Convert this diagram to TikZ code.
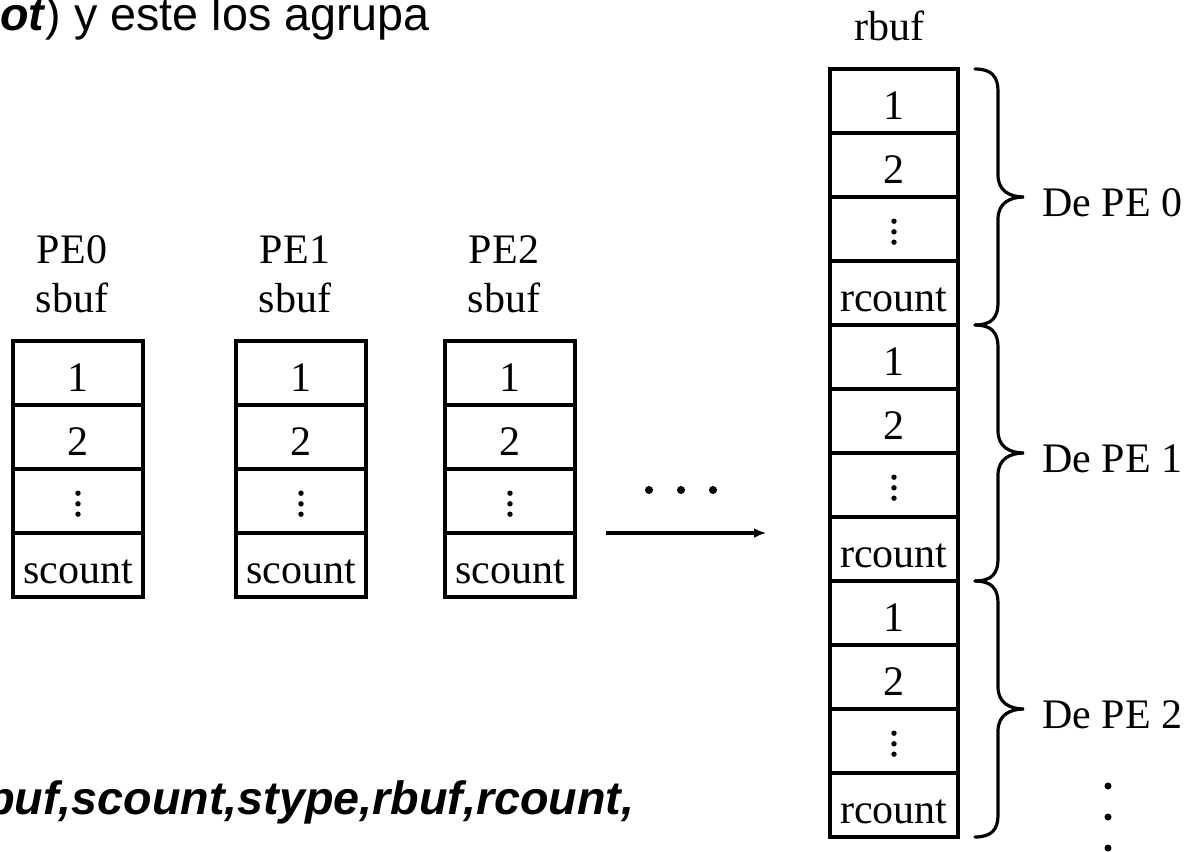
\documentclass[tikz,border=0pt]{standalone}
\usepackage{fontspec}
\setmainfont{Liberation Serif}
\newfontfamily\arialfont{Liberation Sans}
\usetikzlibrary{arrows.meta}

% one unit = one pixel of a 1202 x 851 canvas, y grows downward
\tikzset{
  x=0.75pt, y=-0.75pt,
  serif/.style={font=\fontsize{31.5}{36}\selectfont},
  cell/.style={draw, line width=2.4pt, serif, minimum width=97.5pt,
    minimum height=48pt, inner sep=0pt, outer sep=0pt,
    text height=27pt, text depth=0pt},
  rcell/.style={cell, minimum width=96pt},
  lbl/.style={serif, anchor=base, inner sep=0pt},
  sidelbl/.style={serif, anchor=base west, inner sep=0pt},
  slide/.style={font=\arialfont\fontsize{35}{40}\selectfont, anchor=base west, inner sep=0pt},
  brace/.style={line width=2.4pt, line cap=round},
  arrowline/.style={line width=2.4pt, -{Latex[length=9pt,width=7.5pt]}}
}

% three vertical dots inside an elided cell
\newcommand{\celldots}[1]{%
  \fill (#1.center) ++(0,-7.8) circle[radius=2.7];
  \fill (#1.center) ++(0,2.8) circle[radius=2.7];
  \fill (#1.center) ++(0,13.2) circle[radius=2.7];
}

\begin{document}
\begin{tikzpicture}
\useasboundingbox (0,0) rectangle (1202,851);
\clip (0,0) rectangle (1202,851);

% slide text
\node[slide] (hdr) at (0,30) {\textbf{\textit{ot}}) y este los agrupa};
\node[slide] (call) at (-14,814) {\textbf{\textit{buf,scount,stype,rbuf,rcount,}}};

% send buffers of the three processes
\foreach \c/\x in {0/78,1/301,2/510}{
  \node[lbl] (pe\c) at (\x-6,263) {PE\c};
  \node[lbl] (sb\c) at (\x-6,312) {sbuf};
  \node[cell] (s\c-a) at (\x,373) {1};
  \node[cell] (s\c-b) at (\x,437) {2};
  \node[cell] (s\c-c) at (\x,501) {};
  \node[cell] (s\c-d) at (\x,565) {scount};
  \celldots{s\c-c}
}

% ellipsis and gather arrow
\fill (649,490) circle[radius=4];
\fill (681,490) circle[radius=4];
\fill (713,490) circle[radius=4];
\coordinate (arrS) at (606,533);
\coordinate (arrE) at (766,533);
\draw[arrowline] (arrS) -- (arrE);

% receive buffer on the root
\node[lbl] (rb) at (889,40) {rbuf};
\foreach \g in {0,1,2}{
  \pgfmathsetmacro{\yt}{69+256*\g}
  \node[rcell] (r\g-a) at (894,\yt+32) {1};
  \node[rcell] (r\g-b) at (894,\yt+96) {2};
  \node[rcell] (r\g-c) at (894,\yt+160) {};
  \node[rcell] (r\g-d) at (894,\yt+224) {rcount};
  \celldots{r\g-c}
  % brace for the block coming from PE \g
  \pgfmathsetmacro{\yb}{\yt+256}
  \pgfmathsetmacro{\ym}{\yt+128}
  \draw[brace] (975,\yt) .. controls (992,\yt) and (998,\yt+8) .. (998,\yt+22)
    -- (998,\ym-22) .. controls (998,\ym-6) and (1010,\ym) .. (1024,\ym)
    .. controls (1010,\ym) and (998,\ym+6) .. (998,\ym+22)
    -- (998,\yb-22) .. controls (998,\yb-8) and (992,\yb) .. (975,\yb);
  \node[sidelbl] (de\g) at (1042,\ym+19) {De PE \g};
}

% more blocks follow
\fill (1108,786) circle[radius=3.5];
\fill (1108,817) circle[radius=3.5];
\fill (1108,848) circle[radius=3.5];
\end{tikzpicture}
\end{document}
